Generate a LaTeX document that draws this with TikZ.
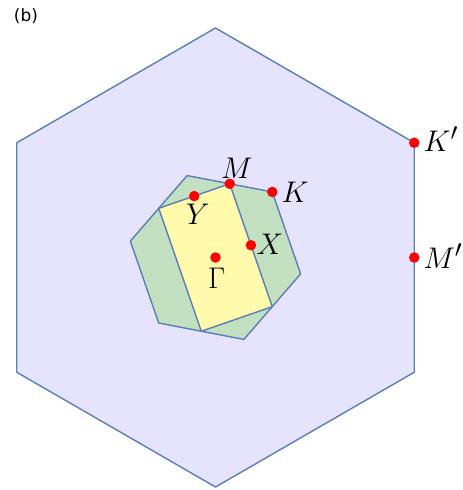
\documentclass[tikz,border=0pt]{standalone}
\usepackage{fontspec}
\usepackage{tikz}
\usetikzlibrary{calc}
\newfontfamily\panelfont{DejaVu Sans}
\definecolor{edgeblue}{RGB}{91,125,184}
\definecolor{bzouter}{RGB}{230,228,252}
\definecolor{bzgreen}{RGB}{195,225,193}
\definecolor{bzyellow}{RGB}{255,250,172}

\begin{document}
\begin{tikzpicture}[x=1pt, y=1pt,
    zone/.style={draw=edgeblue, line width=1.4pt, line join=round},
    dot/.style={circle, fill=red, inner sep=0pt, minimum size=10.5pt},
    lbl/.style={font=\fontsize{24.88}{30}\selectfont, scale=1.2, inner sep=1pt},
    panel/.style={font=\panelfont\fontsize{17}{20}\selectfont, inner sep=0pt}
]
\useasboundingbox (-215.5,-232.5) rectangle (247.5,257.5);

% large zone
\draw[zone, fill=bzouter] (90:229.5) -- (30:229.5) -- (-30:229.5)
    -- (-90:229.5) -- (-150:229.5) -- (150:229.5) -- cycle;
% folded hexagon
\draw[zone, fill=bzgreen] (49.1:86.7) -- (109.1:86.7) -- (169.1:86.7)
    -- (229.1:86.7) -- (289.1:86.7) -- (349.1:86.7) -- cycle;
% rectangular zone
\draw[zone, fill=bzyellow] (79.1:75.1) -- (139.1:75.1) -- (259.1:75.1)
    -- (319.1:75.1) -- cycle;

% high symmetry points
\node[dot, label={[lbl, label distance=3pt, xshift=1pt]below:$\Gamma$}] (G) at (0,0) {};
\node[dot, label={[lbl, label distance=1pt, xshift=3pt]below:$Y$}] (Y) at (109.1:65.0) {};
\node[dot, label={[lbl, label distance=-1pt, xshift=6pt]above:$M$}] (M) at (79.1:75.1) {};
\node[dot, label={[lbl, label distance=2pt]right:$K$}] (K) at (49.1:86.7) {};
\node[dot, label={[lbl, label distance=-1pt, yshift=1pt]right:$X$}] (X) at (19.1:37.5) {};
\node[dot, label={[lbl, label distance=2pt, yshift=3pt]right:$K'$}] (Kp) at (30:229.5) {};
\node[dot, label={[lbl, label distance=2pt, yshift=1pt]right:$M'$}] (Mp) at (0:198.75) {};

\node[panel] (tag) at (-189.5,241.5) {(b)};
\end{tikzpicture}
\end{document}
